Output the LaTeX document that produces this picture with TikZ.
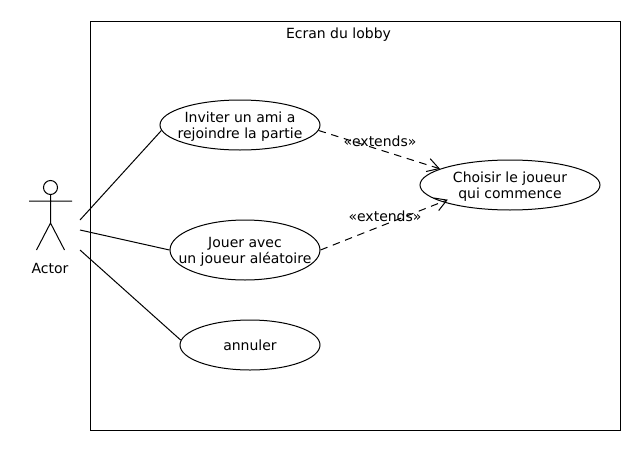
\documentclass[tikz,border=0pt]{standalone}
\usepackage{fontspec}
\setmainfont{DejaVu Sans}
\usetikzlibrary{shapes.geometric,arrows.meta}
\newcommand{\topstrut}{\rule{0pt}{14pt}}

\begin{document}
\begin{tikzpicture}[x=1pt,y=-1pt,line width=1pt]
\tikzstyle{every node}=[font=\fontsize{14}{16}\selectfont,align=center,inner sep=0pt];
\tikzstyle{usecase}=[draw,shape=ellipse,inner sep=-20pt];
\tikzstyle{extends}=[dash pattern=on 7.5pt off 5.7pt,-{Straight Barb[length=11.5pt,width=13.5pt]}];
\useasboundingbox (0,0) rectangle (640,450);

\node[draw,minimum width=530pt,minimum height=409pt] (lobby) at (355,225.5) {};
\node (title) at (338.5,35) {Ecran du lobby};

% actor
\node[draw,shape=circle,minimum size=14pt] (head) at (50.5,187.5) {};
\coordinate (hip) at (50.5,223);
\coordinate (armL) at (29,201);
\coordinate (armR) at (72,201);
\coordinate (footL) at (36.5,250);
\coordinate (footR) at (64.5,250);
\node (actor) at (50,268) {Actor};
\draw (head) -- (hip)
(armL) -- (armR)
(hip) -- (footL)
(hip) -- (footR);

\coordinate (a1) at (80,220);
\coordinate (a2) at (80,230);
\coordinate (a3) at (80,250);

\node[usecase,minimum width=160pt,minimum height=50pt] (inviter) at (240,125) {\topstrut Inviter un ami a\\rejoindre la partie};
\node[usecase,minimum width=150pt,minimum height=60pt] (jouer) at (245,250) {\topstrut Jouer avec\\un joueur aléatoire};
\node[usecase,minimum width=140pt,minimum height=50pt] (annuler) at (250,345) {annuler};
\node[usecase,minimum width=180pt,minimum height=50pt] (choisir) at (510,185) {\topstrut Choisir le joueur\\qui commence};

\draw (a1) -- (inviter.184)
(a2) -- (jouer.west)
(a3) -- (annuler.176);

\draw[extends] (inviter.356) -- (choisir.167);
\draw[extends,shorten >=-6pt] (jouer.east) -- (choisir.194);

\node (ext1) at (380,141) {«extends»};
\node (ext2) at (385,216) {«extends»};
\end{tikzpicture}
\end{document}
